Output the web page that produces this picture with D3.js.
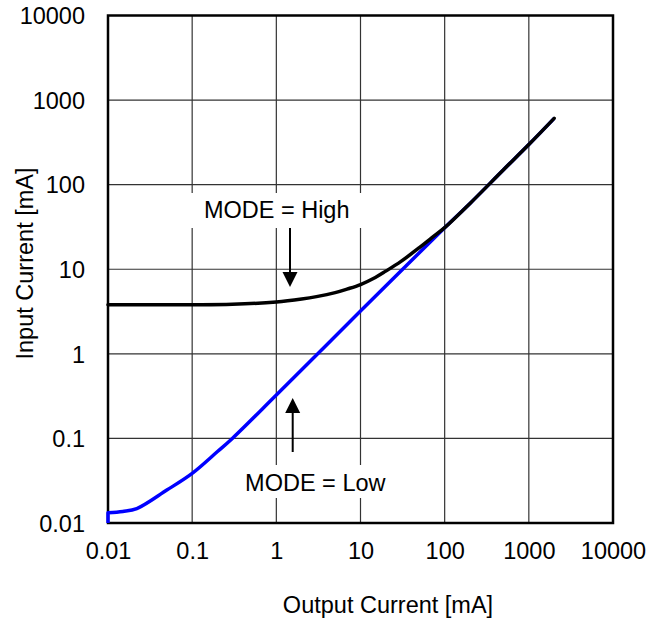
<!DOCTYPE html>
<html>
<head>
<meta charset="utf-8">
<script src="https://cdn.jsdelivr.net/npm/d3@7"></script>
<style>
  html, body { margin: 0; padding: 0; background: #fff; }
  svg { display: block; }
  text { font-family: "Liberation Sans", Arial, sans-serif; fill: #000; }
</style>
</head>
<body>
<svg id="chart" width="667" height="623"></svg>
<script>
// ---- data ----
const xTicks = [0.01, 0.1, 1, 10, 100, 1000, 10000];
const yTicks = [0.01, 0.1, 1, 10, 100, 1000, 10000];
const xTickLabels = ["0.01", "0.1", "1", "10", "100", "1000", "10000"];
const yTickLabels = ["0.01", "0.1", "1", "10", "100", "1000", "10000"];

const highX = [0.01, 0.1, 0.3, 1, 2, 3, 5, 7, 10, 15, 20, 30, 50, 70, 100, 200, 500, 1000, 2000];
const highY = [3.8, 3.8, 3.85, 4.1, 4.45, 4.75, 5.3, 5.85, 6.6, 8.0, 9.5, 12.3, 18, 23.5, 31, 60, 150, 298, 608];

const lowX = [0.01, 0.015, 0.022, 0.05, 0.1, 0.2, 0.3, 1, 10, 100, 200, 500, 1000, 2000];
const lowY = [0.0132, 0.0137, 0.0148, 0.0245, 0.0386, 0.07, 0.1, 0.326, 3.2, 31, 60, 150, 298, 608];

const xTitle = "Output Current [mA]";
const yTitle = "Input Current [mA]";
const highLabel = "MODE = High";
const lowLabel = "MODE = Low";

// ---- layout ----
const svg = d3.select("#chart");
const L = 108, R = 613, T = 15.5, B = 523;
const x = d3.scaleLog().domain([0.01, 10000]).range([L, R]);
const y = d3.scaleLog().domain([0.01, 10000]).range([B, T]);
const FS = "23.5px";

// gridlines
const grid = svg.append("g");
grid.selectAll("line.v").data(xTicks.slice(1, -1)).enter().append("line")
  .attr("x1", d => x(d)).attr("x2", d => x(d)).attr("y1", T).attr("y2", B)
  .attr("stroke", "#333").attr("stroke-width", 1.2);
grid.selectAll("line.h").data(yTicks.slice(1, -1)).enter().append("line")
  .attr("x1", L).attr("x2", R).attr("y1", d => y(d)).attr("y2", d => y(d))
  .attr("stroke", "#333").attr("stroke-width", 1.2);

// label background boxes (hide gridlines)
svg.append("rect").attr("x", 186).attr("y", 193).attr("width", 182).attr("height", 35).attr("fill", "#fff");
svg.append("rect").attr("x", 238).attr("y", 465).attr("width", 156).attr("height", 33).attr("fill", "#fff");

// frame
svg.append("rect").attr("x", L).attr("y", T).attr("width", R - L).attr("height", B - T)
  .attr("fill", "none").attr("stroke", "#000").attr("stroke-width", 2.5);

// axes tick labels
const xAxis = d3.axisBottom(x).tickValues(xTicks).tickSize(0)
  .tickFormat((d, i) => xTickLabels[i]);
const gx = svg.append("g").attr("transform", `translate(0,${B})`).call(xAxis);
gx.select(".domain").remove();
gx.selectAll("text").attr("font-size", FS).attr("dy", null).attr("y", 36)
  .attr("font-family", "Liberation Sans, Arial, sans-serif").attr("fill", "#000");

const yAxis = d3.axisLeft(y).tickValues(yTicks).tickSize(0)
  .tickFormat((d, i) => yTickLabels[i]);
const gy = svg.append("g").attr("transform", `translate(${L},0)`).call(yAxis);
gy.select(".domain").remove();
gy.selectAll("text").attr("font-size", FS).attr("x", -23).attr("dy", "0.35em")
  .attr("font-family", "Liberation Sans, Arial, sans-serif").attr("fill", "#000");

// titles
svg.append("text").attr("x", 388).attr("y", 612.5).attr("text-anchor", "middle")
  .attr("font-size", FS).text(xTitle);
svg.append("text").attr("transform", "translate(33,263.5) rotate(-90)")
  .attr("text-anchor", "middle").attr("font-size", FS).text(yTitle);

// curves
const line = d3.line().x(d => x(d[0])).y(d => y(d[1])).curve(d3.curveCatmullRom.alpha(0.5));
const lowData = lowX.map((v, i) => [v, lowY[i]]);
const highData = highX.map((v, i) => [v, highY[i]]);

const lowPath = `M${x(lowX[0])},${y(0.01)}L` + line(lowData).slice(1);
svg.append("path").attr("d", lowPath).attr("fill", "none")
  .attr("stroke", "#0000ff").attr("stroke-width", 3.5).attr("stroke-linejoin", "round");
svg.append("path").attr("d", line(highData)).attr("fill", "none")
  .attr("stroke", "#000").attr("stroke-width", 3.5).attr("stroke-linecap", "round")
  .attr("stroke-linejoin", "round");

// annotations
svg.append("text").attr("x", 276.7).attr("y", 218.3).attr("text-anchor", "middle")
  .attr("font-size", FS).text(highLabel);
svg.append("text").attr("x", 315.3).attr("y", 491).attr("text-anchor", "middle")
  .attr("font-size", FS).text(lowLabel);

function arrow(x0, yTail, yTip) {
  const dir = Math.sign(yTip - yTail);
  const headLen = 15, headHalf = 7.5;
  svg.append("line").attr("x1", x0).attr("x2", x0).attr("y1", yTail).attr("y2", yTip - dir * headLen)
    .attr("stroke", "#000").attr("stroke-width", 2);
  svg.append("path")
    .attr("d", `M${x0},${yTip}L${x0 - headHalf},${yTip - dir * headLen}L${x0 + headHalf},${yTip - dir * headLen}Z`)
    .attr("fill", "#000");
}
arrow(290, 228, 287);
arrow(292.7, 452, 398);
</script>
</body>
</html>
